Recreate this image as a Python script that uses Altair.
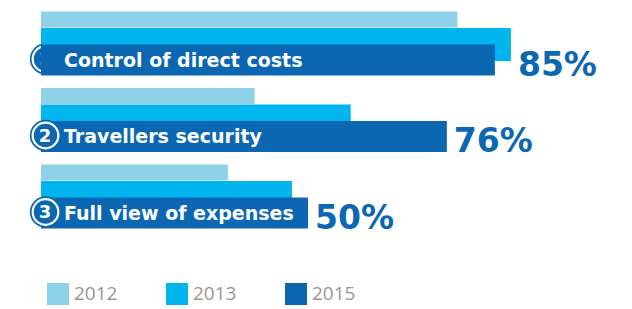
import altair as alt
import pandas as pd

categories = ["Control of direct costs", "Travellers security", "Full view of expenses"]
numbers = ["1", "2", "3"]
years = ["2012", "2013", "2015"]
values_2012 = [78, 40, 35]
values_2013 = [88, 58, 47]
values_2015 = [85, 76, 50]
colors = ["#8dd2e9", "#00b5ee", "#0b67b1"]
dark = "#0b67b1"

rows = []
for i, c in enumerate(categories):
    for yr, vals in zip(years, [values_2012, values_2013, values_2015]):
        rows.append({"cat": c, "year": yr, "value": vals[i]})
bars = pd.DataFrame(rows)

labels = pd.DataFrame({
    "cat": categories,
    "num": numbers,
    "base": [0, 0, 0],
    "pct": [f"{v}%" for v in values_2015],
    "pos": [max(a, b, c) for a, b, c in zip(values_2012, values_2013, values_2015)],
})

xscale = alt.Scale(domain=[0, 100], range=[33, 567])
yscale = alt.Scale(domain=categories, range=[-2.75, 226.75], paddingInner=0, paddingOuter=0)
Y = alt.Y("cat:N", scale=yscale, axis=None)
X0 = alt.X("value:Q", scale=xscale, axis=None)
XB = alt.X("base:Q", scale=xscale, axis=None)

color = alt.Color(
    "year:N",
    scale=alt.Scale(domain=years, range=colors),
    legend=alt.Legend(
        title=None, orient="none", legendX=39, legendY=275, direction="horizontal",
        symbolType="square", symbolSize=484, symbolStrokeWidth=0, symbolOpacity=1,
        labelFont="Open Sans", labelFontSize=19, labelColor="#9b9591",
        labelOffset=5, columnPadding=48, padding=0,
    ),
)


def bar_layer(year, h, off):
    return (
        alt.Chart(bars)
        .transform_filter(alt.datum.year == year)
        .mark_bar(height=h, yOffset=off, opacity=1)
        .encode(x=X0, y=Y, color=color)
    )


def circle_layers(df):
    base = alt.Chart(df).encode(x=XB, y=Y)
    outer = base.mark_point(shape="circle", filled=True, size=980, color=dark,
                            opacity=1, xOffset=4.5, yOffset=15.5)
    ring = base.mark_point(shape="circle", size=660, fill=dark, stroke="white",
                           strokeWidth=2.2, opacity=1, fillOpacity=1, xOffset=4.5, yOffset=15.5)
    num = base.mark_text(font="DejaVu Sans", fontWeight="bold", fontSize=18, color="white",
                         align="center", baseline="middle", dx=4, yOffset=16.5).encode(text="num:N")
    return [outer, ring, num]


first = labels[labels["num"] == "1"].reset_index(drop=True)
rest = labels[labels["num"] != "1"].reset_index(drop=True)

names = (
    alt.Chart(labels)
    .mark_text(font="DejaVu Sans", fontWeight="bold", fontSize=19, color="white",
               align="left", baseline="middle", dx=23, yOffset=17)
    .encode(x=XB, y=Y, text="cat:N")
)

pcts = (
    alt.Chart(labels)
    .mark_text(font="DejaVu Sans", fontWeight="bold", fontSize=33, color=dark,
               align="left", baseline="middle", dx=7, yOffset=22)
    .encode(x=alt.X("pos:Q", scale=xscale, axis=None), y=Y, text="pct:N")
)

layers = (
    circle_layers(first)
    + [bar_layer("2012", 16, -24), bar_layer("2013", 33, 1), bar_layer("2015", 31, 16.5)]
    + circle_layers(rest)
    + [names, pcts]
)

chart = (
    alt.layer(*layers)
    .properties(width=616, height=290, padding=0)
    .configure_view(stroke=None)
)

chart.save("out.html", embed_options={"renderer": "svg", "actions": False})
